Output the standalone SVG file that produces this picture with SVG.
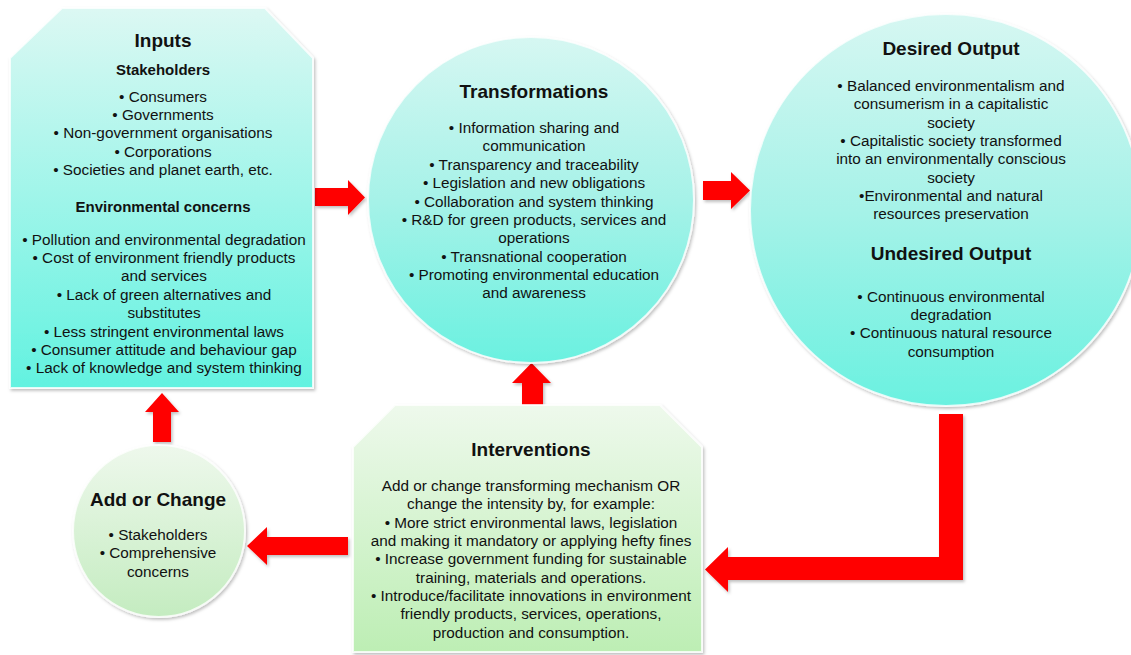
<svg xmlns="http://www.w3.org/2000/svg" width="1131" height="655" viewBox="0 0 1131 655">
<defs>
<linearGradient id="gCyan" x1="0" y1="0" x2="0" y2="1">
<stop offset="0" stop-color="#dcf8f3"/>
<stop offset="1" stop-color="#62f2e0"/>
</linearGradient>
<linearGradient id="gCyanC" x1="0" y1="0" x2="0" y2="1">
<stop offset="0" stop-color="#d6f7f2"/>
<stop offset="0.5" stop-color="#a6f2e8"/>
<stop offset="1" stop-color="#6af1e0"/>
</linearGradient>
<linearGradient id="gGreen" x1="0" y1="0" x2="0" y2="1">
<stop offset="0" stop-color="#eef9ec"/>
<stop offset="1" stop-color="#bdeeb4"/>
</linearGradient>
<linearGradient id="gGreenC" x1="0" y1="0" x2="0" y2="1">
<stop offset="0" stop-color="#eef8ec"/>
<stop offset="1" stop-color="#c4ecc0"/>
</linearGradient>
<filter id="sh" x="-10%" y="-10%" width="120%" height="120%">
<feDropShadow dx="1.5" dy="2" stdDeviation="1.5" flood-color="#000" flood-opacity="0.25"/>
</filter>
<style>
.t{font-family:"Liberation Sans",Arial,sans-serif;fill:#111;text-anchor:middle}
.h{font-size:19px;font-weight:bold}
.s{font-size:15px;font-weight:bold}
.b{font-size:15.3px}
.node{stroke:#ffffff;stroke-opacity:0.8;stroke-width:2}
.arrow{fill:#ff0000;filter:url(#sh)}
</style>
</defs>

<g id="connectors">
<path class="arrow" d="M315,188 H348 V180 L365,197.5 L348,215 V206 H315 Z"/>
<path class="arrow" d="M703,181 H731 V172 L750,190.5 L731,209 V200 H703 Z"/>
<path class="arrow" d="M522,414 V383 H512 L531.5,363 L551,383 H543 V414 Z"/>
<path class="arrow" d="M153,442 V412 H145 L162,393 L179,412 H171 V442 Z"/>
<path class="arrow" d="M348,537 H267 V527 L247,546 L267,565 V555 H348 Z"/>
<path class="arrow" d="M939,414 H963 V580 H728 V592 L705,569.5 L728,547 V557 H939 Z"/>
</g>

<g id="inputs">
<path class="node" filter="url(#sh)" fill="url(#gCyan)" d="M10,58 L62,8 L265,8 L313,58 L313,388 L10,388 Z"/>
<text class="t h" x="163" y="47">Inputs</text>
<text class="t s" x="163" y="75">Stakeholders</text>
<text class="t b" x="163" y="102">• Consumers</text>
<text class="t b" x="163" y="120">• Governments</text>
<text class="t b" x="163" y="138">• Non-government organisations</text>
<text class="t b" x="163" y="157">• Corporations</text>
<text class="t b" x="163" y="175">• Societies and planet earth, etc.</text>
<text class="t s" x="163" y="212">Environmental concerns</text>
<text class="t b" x="164" y="245">• Pollution and environmental degradation</text>
<text class="t b" x="164" y="263">• Cost of environment friendly products</text>
<text class="t b" x="164" y="281">and services</text>
<text class="t b" x="164" y="300">• Lack of green alternatives and</text>
<text class="t b" x="164" y="318">substitutes</text>
<text class="t b" x="164" y="337">• Less stringent environmental laws</text>
<text class="t b" x="164" y="355">• Consumer attitude and behaviour gap</text>
<text class="t b" x="164" y="373">• Lack of knowledge and system thinking</text>
</g>

<g id="transformations">
<circle class="node" filter="url(#sh)" fill="url(#gCyanC)" cx="531" cy="200" r="163"/>
<text class="t h" x="534" y="98">Transformations</text>
<text class="t b" x="534" y="133">• Information sharing and</text>
<text class="t b" x="534" y="151">communication</text>
<text class="t b" x="534" y="170">• Transparency and traceability</text>
<text class="t b" x="534" y="188">• Legislation and new obligations</text>
<text class="t b" x="534" y="207">• Collaboration and system thinking</text>
<text class="t b" x="534" y="225">• R&amp;D for green products, services and</text>
<text class="t b" x="534" y="243">operations</text>
<text class="t b" x="534" y="262">• Transnational cooperation</text>
<text class="t b" x="534" y="280">• Promoting environmental education</text>
<text class="t b" x="534" y="298">and awareness</text>
</g>

<g id="outputs">
<circle class="node" filter="url(#sh)" fill="url(#gCyanC)" cx="946" cy="210" r="196"/>
<text class="t h" x="951" y="55">Desired Output</text>
<text class="t b" x="951" y="91">• Balanced environmentalism and</text>
<text class="t b" x="951" y="109">consumerism in a capitalistic</text>
<text class="t b" x="951" y="128">society</text>
<text class="t b" x="951" y="146">• Capitalistic society transformed</text>
<text class="t b" x="951" y="164">into an environmentally conscious</text>
<text class="t b" x="951" y="183">society</text>
<text class="t b" x="951" y="201">•Environmental and natural</text>
<text class="t b" x="951" y="219">resources preservation</text>
<text class="t h" x="951" y="260">Undesired Output</text>
<text class="t b" x="951" y="302">• Continuous environmental</text>
<text class="t b" x="951" y="320">degradation</text>
<text class="t b" x="951" y="338">• Continuous natural resource</text>
<text class="t b" x="951" y="357">consumption</text>
</g>

<g id="interventions">
<path class="node" filter="url(#sh)" fill="url(#gGreen)" d="M353,447 L395,405 L660,405 L702,447 L702,652 L353,652 Z"/>
<text class="t h" x="531" y="456">Interventions</text>
<text class="t b" x="531" y="491">Add or change transforming mechanism OR</text>
<text class="t b" x="531" y="509">change the intensity by, for example:</text>
<text class="t b" x="531" y="528">• More strict environmental laws, legislation</text>
<text class="t b" x="531" y="546">and making it mandatory or applying hefty fines</text>
<text class="t b" x="531" y="564">• Increase government funding for sustainable</text>
<text class="t b" x="531" y="583">training, materials and operations.</text>
<text class="t b" x="531" y="601">• Introduce/facilitate innovations in environment</text>
<text class="t b" x="531" y="619">friendly products, services, operations,</text>
<text class="t b" x="531" y="638">production and consumption.</text>
</g>

<g id="add-or-change">
<circle class="node" filter="url(#sh)" fill="url(#gGreenC)" cx="159" cy="531" r="86"/>
<text class="t h" x="158" y="506">Add or Change</text>
<text class="t b" x="158" y="540">• Stakeholders</text>
<text class="t b" x="158" y="558">• Comprehensive</text>
<text class="t b" x="158" y="577">concerns</text>
</g>
</svg>
